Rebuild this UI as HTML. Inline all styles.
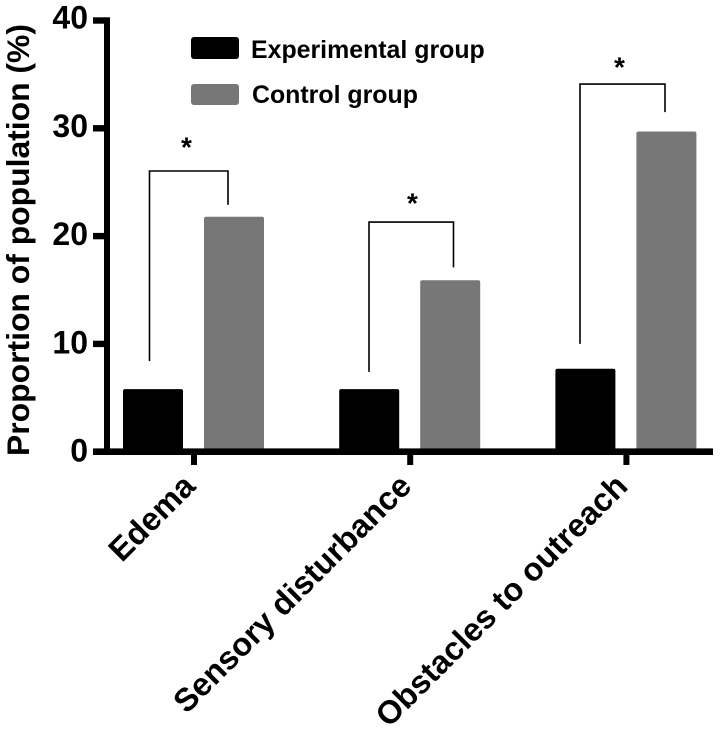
<!DOCTYPE html>
<html>
<head>
<meta charset="utf-8">
<style>
html,body{margin:0;padding:0;background:#fff;}
svg{display:block;}
text{font-family:"Liberation Sans",Arial,sans-serif;font-weight:bold;fill:#000;}
</style>
</head>
<body>
<svg id="chart" xmlns="http://www.w3.org/2000/svg" width="720" height="734" viewBox="0 0 720 734"></svg>
<script>
const categories = ['Edema', 'Sensory disturbance', 'Obstacles to outreach'];
const experimentalValues = [5.8, 5.8, 7.7];
const controlValues = [21.8, 15.9, 29.7];
const yTickLabels = [0, 10, 20, 30, 40];
const bracketTops = [26.04, 21.3, 34.1];
const bracketLeftEnds = [8.4, 7.4, 10];
const bracketRightEnds = [22.9, 17.1, 31.5];
const starLevels = [27.4, 22.2, 34.8];

const svg = document.getElementById('chart');
const NS = 'http://www.w3.org/2000/svg';
function yScale(v) { return 451.7 - v * 10.78; }
function groupCenter(i) { return 194 + i * 216.2; }
function make(tag, attrs, parent) {
  const el = document.createElementNS(NS, tag);
  for (const k in attrs) el.setAttribute(k, attrs[k]);
  (parent || svg).appendChild(el);
  return el;
}

categories.forEach(function (cat, i) {
  const c = groupCenter(i);
  const barA = make('rect', {x: c - 71, y: yScale(experimentalValues[i]), width: 60, height: yScale(0) - yScale(experimentalValues[i]), rx: 2, fill: '#000'});
  
  
  const barB = make('rect', {x: c + 10, y: yScale(controlValues[i]), width: 60, height: yScale(0) - yScale(controlValues[i]), rx: 2, fill: '#777'});
  
  

  const lx = [149.5, 369, 580][i];
  const rx = [228, 453.5, 665][i];
  const bracket = make('path', {
    d: 'M' + lx + ' ' + yScale(bracketLeftEnds[i]) + 'V' + yScale(bracketTops[i]) + 'H' + rx + 'V' + yScale(bracketRightEnds[i]),
    fill: 'none', stroke: '#000', 'stroke-width': 1.6
  });
  
  

  const star = make('text', {x: [186.5, 412.5, 619.5][i], y: yScale(starLevels[i]), 'text-anchor': 'middle', 'font-size': 28});
  star.textContent = '*';
  
  

  const tick = make('rect', {x: c - 3, y: 451, width: 6, height: 14, fill: '#000'});
  
  

  const ex = c + 3;
  const label = make('text', {x: 0, y: 0, 'text-anchor': 'end', 'font-size': 32.4, transform: 'translate(' + ex + ' 488) rotate(-45)'});
  label.textContent = cat;
  
  
});

yTickLabels.forEach(function (v) {
  const tick = make('rect', {x: 93, y: yScale(v) - 3.2, width: 12, height: 6.4, fill: '#000'});
  
  
  const label = make('text', {x: 88, y: yScale(v) + 10 - v * 0.05, 'text-anchor': 'end', 'font-size': 32});
  label.textContent = v;
  
  
});

const yAxis = make('rect', {x: 104, y: yScale(40) - 3.2, width: 6, height: yScale(0) - yScale(40) + 6.4, fill: '#000'});


const xAxis = make('rect', {x: 93, y: 448.4, width: 620, height: 6.6, fill: '#000'});



const yTitle = make('text', {x: 0, y: 0, 'font-size': 31.5, 'text-anchor': 'middle', transform: 'translate(29 240) rotate(-90)', textLength: 432, lengthAdjust: 'spacingAndGlyphs'});
yTitle.textContent = 'Proportion of population (%)';



const legendSwatchA = make('rect', {x: 191, y: 37, width: 48, height: 22, rx: 3, fill: '#000'});


const legendTextA = make('text', {x: 251, y: 58, 'font-size': 24.9});
legendTextA.textContent = 'Experimental group';


const legendSwatchB = make('rect', {x: 191, y: 84, width: 48, height: 21, rx: 3, fill: '#777'});


const legendTextB = make('text', {x: 252, y: 103, 'font-size': 24.9});
legendTextB.textContent = 'Control group';


</script>
</body>
</html>
